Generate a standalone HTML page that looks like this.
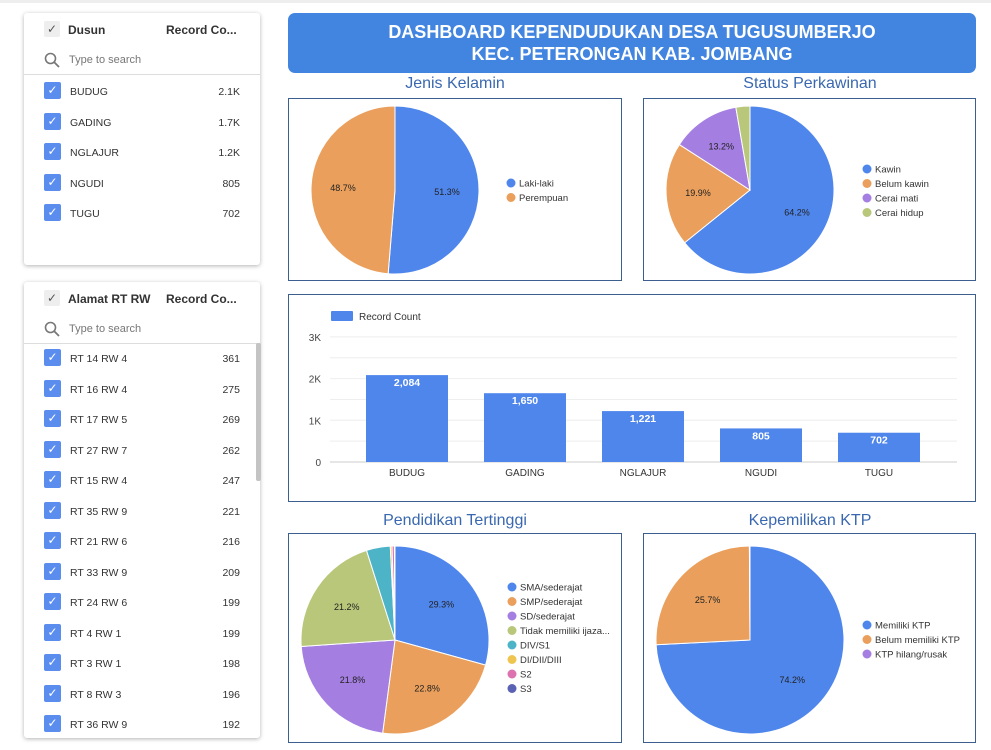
<!DOCTYPE html>
<html><head><meta charset="utf-8">
<style>
*{margin:0;padding:0;box-sizing:border-box}
body{width:991px;height:750px;background:#fff;font-family:"Liberation Sans",Arial,sans-serif;position:relative;overflow:hidden}
.card{position:absolute;left:24px;width:236px;background:#fff;border-radius:3px;box-shadow:0 1px 4px rgba(0,0,0,.3)}
.hd{position:absolute;top:0;left:0;right:0;height:32px;font-size:12px;font-weight:bold;color:#333}
.hd .ck{position:absolute;left:20px;top:8px;width:16px;height:16px;background:#eee;border-radius:2px;color:#555;font-size:12px;line-height:16px;text-align:center;font-weight:normal}
.hd .t1{position:absolute;left:44px;top:10px}
.hd .t2{position:absolute;left:142px;top:10px}
.srch{position:absolute;top:32px;left:0;right:0;height:30px;border-bottom:1px solid #ddd;font-size:11px;color:#777}
.srch span{position:absolute;left:45px;top:9px}
.row{position:absolute;left:20px;right:20px;height:20px;font-size:10.5px;color:#333}
.row .b{position:absolute;left:0;top:0;width:17px;height:17px;background:#5b8def;border-radius:2px;color:#fff;font-size:12px;line-height:17px;text-align:center}
.row .n{position:absolute;left:26px;top:4px}
.row .v{position:absolute;right:0;top:4px}
.box{position:absolute;border:1px solid #3d5f8f;background:#fff}
.ttl{position:absolute;font-size:16px;color:#3a68b0;text-align:center}
</style></head><body>
<div style="position:absolute;left:0;top:0;width:991px;height:3px;background:#eee"></div>

<div class="card" style="top:13px;height:252px">
 <div class="hd"><div class="ck">✓</div><div class="t1">Dusun</div><div class="t2">Record Co...</div></div>
 <div class="srch"><svg style="position:absolute;left:20px;top:7px" width="16" height="16"><circle cx="6.5" cy="6.5" r="5" fill="none" stroke="#777" stroke-width="1.6"/><line x1="10" y1="10" x2="15" y2="15" stroke="#777" stroke-width="1.8"/></svg><span>Type to search</span></div>
 <div id="r1"></div>
</div>
<div class="card" style="top:282px;height:456px">
 <div class="hd"><div class="ck">✓</div><div class="t1">Alamat RT RW</div><div class="t2">Record Co...</div></div>
 <div class="srch"><svg style="position:absolute;left:20px;top:7px" width="16" height="16"><circle cx="6.5" cy="6.5" r="5" fill="none" stroke="#777" stroke-width="1.6"/><line x1="10" y1="10" x2="15" y2="15" stroke="#777" stroke-width="1.8"/></svg><span>Type to search</span></div>
 <div style="position:absolute;left:232px;top:61px;width:5px;height:138px;background:#c4c4c4;border-radius:2px"></div>
 <div id="r2"></div>
</div>

<div style="position:absolute;left:288px;top:13px;width:688px;height:60px;background:#4285e0;border-radius:7px;color:#fff;font-size:18px;font-weight:bold;text-align:center;line-height:22px;padding-top:8px">DASHBOARD KEPENDUDUKAN DESA TUGUSUMBERJO<br>KEC. PETERONGAN KAB. JOMBANG</div>

<div class="ttl" style="left:288px;width:334px;top:75px">Jenis Kelamin</div>
<div class="ttl" style="left:643px;width:334px;top:75px">Status Perkawinan</div>
<div class="ttl" style="left:288px;width:334px;top:512px">Pendidikan Tertinggi</div>
<div class="ttl" style="left:643px;width:334px;top:512px">Kepemilikan KTP</div>
<div class="box" style="left:288px;top:98px;width:334px;height:183px"></div>
<div class="box" style="left:643px;top:98px;width:333px;height:183px"></div>
<div class="box" style="left:288px;top:294px;width:688px;height:208px"></div>
<div class="box" style="left:288px;top:533px;width:334px;height:210px"></div>
<div class="box" style="left:643px;top:533px;width:333px;height:210px"></div>

<svg id="s" width="991" height="750" style="position:absolute;left:0;top:0" font-family="Liberation Sans, Arial, sans-serif"></svg>

<script>
var r1=[["BUDUG","2.1K"],["GADING","1.7K"],["NGLAJUR","1.2K"],["NGUDI","805"],["TUGU","702"]];
var r2=[["RT 14 RW 4",361],["RT 16 RW 4",275],["RT 17 RW 5",269],["RT 27 RW 7",262],["RT 15 RW 4",247],["RT 35 RW 9",221],["RT 21 RW 6",216],["RT 33 RW 9",209],["RT 24 RW 6",199],["RT 4 RW 1",199],["RT 3 RW 1",198],["RT 8 RW 3",196],["RT 36 RW 9",192]];
function rows(id,d,top){var h="";d.forEach(function(r,i){h+='<div class="row" style="top:'+(top+i*30.5)+'px"><div class="b">✓</div><div class="n">'+r[0]+'</div><div class="v">'+r[1]+'</div></div>'});document.getElementById(id).innerHTML=h}
rows("r1",r1,69);rows("r2",r2,67);
var s="";
function pie(cx,cy,r,d){var a=0;d.forEach(function(x){var a2=a+x[0]/100*2*Math.PI;var x1=cx+r*Math.sin(a),y1=cy-r*Math.cos(a),x2=cx+r*Math.sin(a2),y2=cy-r*Math.cos(a2);var lg=(a2-a)>Math.PI?1:0;s+='<path d="M'+cx+','+cy+' L'+x1+','+y1+' A'+r+','+r+' 0 '+lg+' 1 '+x2+','+y2+' Z" fill="'+x[1]+'" stroke="#fff" stroke-width="1"/>';if(x[2]){var m=(a+a2)/2;s+='<text x="'+(cx+r*0.62*Math.sin(m))+'" y="'+(cy-r*0.62*Math.cos(m)+3)+'" font-size="9" text-anchor="middle" fill="#222">'+x[2]+'</text>'}a=a2})}
function leg(x,y,d){d.forEach(function(t,i){s+='<circle cx="'+x+'" cy="'+(y+i*14.5)+'" r="4.5" fill="'+t[1]+'"/><text x="'+(x+8)+'" y="'+(y+i*14.5+3.5)+'" font-size="9.5" fill="#333">'+t[0]+'</text>'})}
var B="#4f86ec",O="#eaa05c",P="#a57ee2",G="#b8c77a",C="#4db4c8",Y="#efc552",K="#dd72b0",N="#5b62b4";
pie(395,190,84,[[51.3,B,"51.3%"],[48.7,O,"48.7%"]]);
leg(511,183,[["Laki-laki",B],["Perempuan",O]]);
pie(750,190,84,[[64.2,B,"64.2%"],[19.9,O,"19.9%"],[13.2,P,"13.2%"],[2.7,G,""]]);
leg(867,169,[["Kawin",B],["Belum kawin",O],["Cerai mati",P],["Cerai hidup",G]]);
pie(395,640,94,[[29.3,B,"29.3%"],[22.8,O,"22.8%"],[21.8,P,"21.8%"],[21.2,G,"21.2%"],[4.1,C,""],[0.3,Y,""],[0.4,K,""],[0.1,N,""]]);
leg(512,587,[["SMA/sederajat",B],["SMP/sederajat",O],["SD/sederajat",P],["Tidak memiliki ijaza...",G],["DIV/S1",C],["DI/DII/DIII",Y],["S2",K],["S3",N]]);
pie(750,640,94,[[74.2,B,"74.2%"],[25.7,O,"25.7%"],[0.1,P,""]]);
leg(867,625,[["Memiliki KTP",B],["Belum memiliki KTP",O],["KTP hilang/rusak",P]]);
s+='<rect x="331" y="311" width="22" height="10" fill="'+B+'" rx="1"/><text x="359" y="320" font-size="10" fill="#333">Record Count</text>';
for(var i=0;i<=6;i++){var y=462-i*20.85;s+='<line x1="330" x2="957" y1="'+y+'" y2="'+y+'" stroke="'+(i==0?"#ccc":"#eee")+'" stroke-width="1"/>';if(i%2==0)s+='<text x="321" y="'+(y+4)+'" font-size="10" fill="#444" text-anchor="end">'+(i==0?"0":(i/2)+"K")+'</text>'}
var bars=[["BUDUG",2084,"2,084"],["GADING",1650,"1,650"],["NGLAJUR",1221,"1,221"],["NGUDI",805,"805"],["TUGU",702,"702"]];
bars.forEach(function(b,i){var x=366+i*118,h=b[1]*41.7/1000;s+='<rect x="'+x+'" y="'+(462-h)+'" width="82" height="'+h+'" fill="'+B+'"/><text x="'+(x+41)+'" y="'+(462-h+11)+'" font-size="10.5" font-weight="bold" fill="#fff" text-anchor="middle">'+b[2]+'</text><text x="'+(x+41)+'" y="476" font-size="10" fill="#333" text-anchor="middle">'+b[0]+'</text>'});
document.getElementById("s").innerHTML=s;
</script>
</body></html>
